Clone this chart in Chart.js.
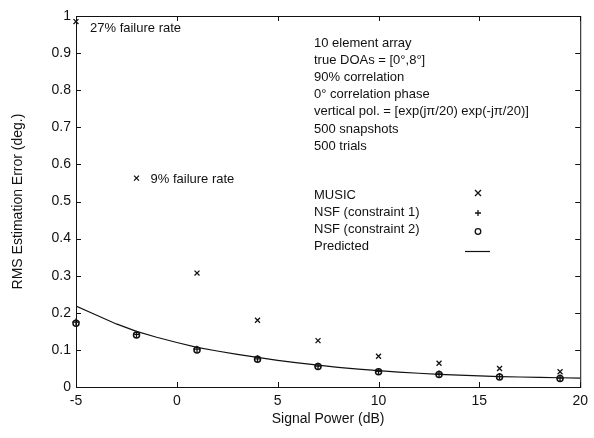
<!DOCTYPE html>
<html>
<head>
<meta charset="utf-8">
<script src="https://cdn.jsdelivr.net/npm/chart.js@4.4.1/dist/chart.umd.min.js"></script>
<style>
  body { margin: 0; background: #fff; }
  #wrap { width: 594px; height: 438px; }
</style>
</head>
<body>
<div id="wrap"><canvas id="myChart" width="594" height="438"></canvas></div>
<script>
// values
const snr = [-5, -2, 1, 4, 7, 10, 13, 16, 19]
const musicErr = [0.985, 0.563, 0.307, 0.18, 0.125, 0.083, 0.064, 0.05, 0.041]
const nsf1Err = [0.175, 0.142, 0.102, 0.076, 0.056, 0.042, 0.035, 0.028, 0.024]
const nsf2Err = [0.172, 0.14, 0.1, 0.075, 0.055, 0.041, 0.034, 0.027, 0.023]
const predSnr = [-5, -4, -3, -2, -1, 0, 1, 2, 3, 4, 5, 6, 7, 8, 9, 10, 11, 12, 13, 14, 15, 16, 17, 18, 19, 20]
const predErr = [0.218, 0.194, 0.170, 0.150, 0.134, 0.120, 0.107, 0.097, 0.088, 0.080, 0.072, 0.065, 0.059,
                 0.053, 0.048, 0.044, 0.040, 0.037, 0.034, 0.032, 0.030, 0.028, 0.027, 0.026, 0.025, 0.024]
const xTicks = [-5, 0, 5, 10, 15, 20]

const infoLines = [
  '10 element array',
  'true DOAs = [0\u00b0,8\u00b0]',
  '90% correlation',
  '0\u00b0 correlation phase',
  'vertical pol. = [exp(j\u03c0/20) exp(-j\u03c0/20)]',
  '500 snapshots',
  '500 trials'
]
const legendItems = ['MUSIC', 'NSF (constraint 1)', 'NSF (constraint 2)', 'Predicted']

const FONT = '"Liberation Sans", Arial, Helvetica, sans-serif'
const ink = '#111'

const toPts = (xs, ys) => xs.map((x, i) => ({ x: x, y: ys[i] }))

// box + inward ticks, MATLAB style
const boxTicks = {
  id: 'boxTicks',
  afterDatasetsDraw(chart) {
    const { ctx, chartArea: a, scales: { x, y } } = chart
    ctx.save()
    ctx.strokeStyle = ink
    ctx.lineWidth = 1
    ctx.strokeRect(a.left + 0.5, a.top + 0.5, a.right - a.left, a.bottom - a.top)
    const len = 5
    ctx.beginPath()
    x.ticks.forEach(t => {
      const px = Math.round(x.getPixelForValue(t.value)) + 0.5
      ctx.moveTo(px, a.bottom); ctx.lineTo(px, a.bottom - len)
      ctx.moveTo(px, a.top); ctx.lineTo(px, a.top + len)
    })
    y.ticks.forEach(t => {
      const py = Math.round(y.getPixelForValue(t.value)) + 0.5
      ctx.moveTo(a.left, py); ctx.lineTo(a.left + len, py)
      ctx.moveTo(a.right, py); ctx.lineTo(a.right - len, py)
    })
    ctx.stroke()
    ctx.restore()
  }
}

const notes = {
  id: 'notes',
  afterDraw(chart) {
    const { ctx, scales: { x, y } } = chart
    ctx.save()
    ctx.fillStyle = ink
    ctx.font = '13px ' + FONT
    ctx.textBaseline = 'middle'
    ctx.textAlign = 'left'
    ctx.fillText('27% failure rate', x.getPixelForValue(-5) + 14, y.getPixelForValue(musicErr[0]) + 7)
    ctx.fillText('9% failure rate', x.getPixelForValue(-2) + 14, y.getPixelForValue(musicErr[1]) + 1)

    infoLines.forEach((s, i) => ctx.fillText(s, 314, 43 + i * 17.2))
    legendItems.forEach((s, i) => ctx.fillText(s, 314, 195 + i * 17))

    // legend samples
    ctx.strokeStyle = ink
    ctx.lineWidth = 1.3
    const mx = 478
    let my = 193
    ctx.beginPath()
    ctx.moveTo(mx - 3, my - 3); ctx.lineTo(mx + 3, my + 3)
    ctx.moveTo(mx + 3, my - 3); ctx.lineTo(mx - 3, my + 3)
    my = 213
    ctx.moveTo(mx - 3, my); ctx.lineTo(mx + 3, my)
    ctx.moveTo(mx, my - 3); ctx.lineTo(mx, my + 3)
    ctx.stroke()
    ctx.beginPath()
    ctx.arc(mx, 231.5, 2.8, 0, Math.PI * 2)
    ctx.stroke()
    ctx.beginPath()
    ctx.lineWidth = 1.2
    ctx.moveTo(465, 251.5); ctx.lineTo(490, 251.5)
    ctx.stroke()
    ctx.restore()
  }
}

const ctx = document.getElementById('myChart')
const chart = new Chart(ctx, {
  type: 'scatter',
  data: {
    datasets: [{
      label: 'MUSIC',
      data: toPts(snr, musicErr),
      pointStyle: 'crossRot',
      pointRadius: 3.5,
      borderColor: ink,
      borderWidth: 1.3,
      clip: false
    }, {
      label: 'NSF (constraint 1)',
      data: toPts(snr, nsf1Err),
      pointStyle: 'cross',
      pointRadius: 3.5,
      borderColor: ink,
      borderWidth: 1.3,
      clip: false
    }, {
      label: 'NSF (constraint 2)',
      data: toPts(snr, nsf2Err),
      pointStyle: 'circle',
      pointRadius: 3,
      borderColor: ink,
      backgroundColor: 'rgba(0,0,0,0)',
      borderWidth: 1.5,
      clip: false
    }, {
      label: 'Predicted',
      data: toPts(predSnr, predErr),
      showLine: true,
      pointRadius: 0,
      borderColor: ink,
      borderWidth: 1.2,
      tension: 0
    }]
  },
  options: {
    responsive: false,
    animation: false,
    layout: { padding: { top: 16, right: 11, left: 0, bottom: 0 } },
    plugins: { legend: { display: false }, tooltip: { enabled: false } },
    scales: {
      x: {
        type: 'linear',
        min: -5,
        max: 20,
        afterBuildTicks: s => { s.ticks = xTicks.map(v => ({ value: v })) },
        afterFit: s => { s.height = 51 },
        grid: { display: false, drawTicks: false },
        border: { display: false },
        ticks: { color: ink, font: { family: FONT, size: 14 }, padding: 6, maxRotation: 0 },
        title: { display: true, text: 'Signal Power (dB)', color: ink, font: { family: FONT, size: 14 }, padding: { bottom: 10 } }
      },
      y: {
        min: 0,
        max: 1,
        ticks: {
          stepSize: 0.1,
          color: ink,
          font: { family: FONT, size: 14 },
          padding: 5,
          callback: v => String(+v.toFixed(1))
        },
        afterFit: s => { s.width = 76 },
        grid: { display: false, drawTicks: false },
        border: { display: false },
        title: { display: true, text: 'RMS Estimation Error (deg.)', color: ink, font: { family: FONT, size: 14 }, padding: { top: 10 } }
      }
    }
  },
  plugins: [boxTicks, notes]
})
</script>
</body>
</html>
